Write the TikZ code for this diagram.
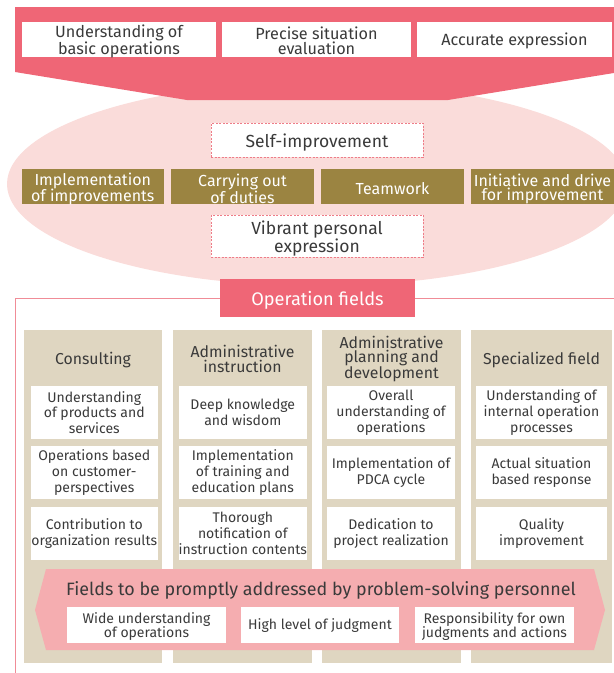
\documentclass[tikz,border=0pt]{standalone}
\usepackage{fontspec}
\setmainfont{Fira Sans}
\usetikzlibrary{positioning}
\definecolor{bannerpink}{HTML}{EF6676}
\definecolor{ovalpink}{HTML}{FADCDA}
\definecolor{olive}{HTML}{9B8441}
\definecolor{beige}{HTML}{DFD6C1}
\definecolor{bandpink}{HTML}{F5ADB0}
\definecolor{framepink}{HTML}{F08C97}
\definecolor{dashpink}{HTML}{EE7C88}
\definecolor{ink}{HTML}{3A3A3A}
\tikzset{
  base/.style={inner sep=0pt, align=center, text=ink},
  % boxes (drawn empty, their text is set by a second node)
  wbox/.style={inner sep=0pt, fill=white},
  dbox/.style={inner sep=0pt, fill=white, draw=dashpink, dashed, dash pattern=on 2pt off 1.5pt, line width=0.8pt},
  obox/.style={inner sep=0pt, fill=olive},
  pbox/.style={inner sep=0pt, fill=bannerpink},
  colbox/.style={fill=beige, inner sep=0pt, anchor=north west},
  % text styles
  tbanner/.style={base, font=\fontsize{16.2}{15}\selectfont},
  tdash/.style={base, font=\fontsize{17.5}{18}\selectfont},
  tolive/.style={base, text=white, font=\fontsize{16}{14.5}\selectfont},
  tpink/.style={base, text=white, font=\fontsize{18.2}{18}\selectfont},
  thead/.style={base, font=\fontsize{15.8}{14.7}\selectfont},
  tcell/.style={base, font=\fontsize{14}{15.8}\selectfont},
  tsub/.style={base, font=\fontsize{14}{14.5}\selectfont},
  ttitle/.style={base, font=\fontsize{17.9}{18}\selectfont},
}
% box node #2 with style #1 at #3; its text #6 in style #4, shifted down by #5
\newcommand{\textbox}[6]{%
  \node[#1] (#2) at (#3) {};
  \node[#4] (#2t) at ([yshift=#5]#2.center) {#6};}
\begin{document}
\begin{tikzpicture}[x=1pt,y=-1pt]
\useasboundingbox (0,0) rectangle (614,673);

% oval of personal qualities
\fill[ovalpink] (317,184) ellipse [x radius=310, y radius=102];

% top banner pointing down into the oval
\fill[bannerpink] (15,7) -- (620,7) -- (620,72) -- (448,100) -- (187,100) -- (15,72) -- cycle;
\textbox{wbox, minimum width=194pt, minimum height=35pt}{b1}{119,39.5}{tbanner}{-1.5pt}{Understanding of\\basic operations}
\textbox{wbox, minimum width=189pt, minimum height=35pt}{b2}{316.5,39.5}{tbanner}{-1.5pt}{Precise situation\\evaluation}
\textbox{wbox, minimum width=195pt, minimum height=35pt}{b3}{514.5,39.5}{tbanner}{-1.5pt}{Accurate expression}

% items inside the oval
\textbox{dbox, minimum width=212pt, minimum height=34pt}{self}{317,140}{tdash}{-3pt}{Self-improvement}
\textbox{obox, minimum width=142.5pt, minimum height=35pt}{o1}{92.75,186.5}{tolive}{-2.5pt}{Implementation\\of improvements}
\textbox{obox, minimum width=143pt, minimum height=35pt}{o2}{242.5,186.5}{tolive}{-2.5pt}{Carrying out\\of duties}
\textbox{obox, minimum width=143pt, minimum height=35pt}{o3}{392.5,186.5}{tolive}{-2.5pt}{Teamwork}
\textbox{obox, minimum width=143pt, minimum height=35pt}{o4}{542.5,186.5}{tolive}{-2.5pt}{Initiative and drive\\for improvement}
\textbox{dbox, minimum width=212pt, minimum height=42pt}{vib}{317,236}{tdash}{-2.5pt}{Vibrant personal\\expression}

% frame around the operation fields
\coordinate (fbl) at (15,673);
\coordinate (ftl) at (15,298);
\coordinate (ftr) at (614,298);
\draw[framepink, line width=1pt] (fbl) -- (ftl) -- (ftr);
\textbox{pbox, minimum width=195pt, minimum height=38pt}{opf}{317.5,298}{tpink}{-2.5pt}{Operation fields}

% the four columns
\node[colbox, minimum width=138pt, minimum height=333pt] (c1) at (24,330) {};
\node[colbox, minimum width=139pt, minimum height=333pt] (c2) at (173,330) {};
\node[colbox, minimum width=139pt, minimum height=333pt] (c3) at (322,330) {};
\node[colbox, minimum width=141pt, minimum height=333pt] (c4) at (471,330) {};

\node[thead] (h1) at (93,360) {Consulting};
\node[thead] (h2) at (242.5,359) {Administrative\\instruction};
\node[thead] (h3) at (391.5,359) {Administrative\\planning and\\development};
\node[thead] (h4) at (541.5,360) {Specialized field};

% column 1
\textbox{wbox, minimum width=127.5pt, minimum height=53pt}{r11}{94.25,412.5}{tcell}{0pt}{Understanding\\of products and\\services}
\textbox{wbox, minimum width=127.5pt, minimum height=53pt}{r12}{94.25,472.5}{tcell}{0pt}{Operations based\\on customer-\\perspectives}
\textbox{wbox, minimum width=127.5pt, minimum height=53pt}{r13}{94.25,533.5}{tcell}{0pt}{Contribution to\\organization results}
% column 2
\textbox{wbox, minimum width=127.6pt, minimum height=53pt}{r21}{242.8,412.5}{tcell}{0pt}{Deep knowledge\\and wisdom}
\textbox{wbox, minimum width=127.6pt, minimum height=53pt}{r22}{242.8,472.5}{tcell}{0pt}{Implementation\\of training and\\education plans}
\textbox{wbox, minimum width=127.6pt, minimum height=53pt}{r23}{242.8,533.5}{tcell}{0pt}{Thorough\\notification of\\instruction contents}
% column 3
\textbox{wbox, minimum width=128pt, minimum height=53pt}{r31}{391,412.5}{tcell}{0pt}{Overall\\understanding of\\operations}
\textbox{wbox, minimum width=128pt, minimum height=53pt}{r32}{391,472.5}{tcell}{0pt}{Implementation of\\PDCA cycle}
\textbox{wbox, minimum width=128pt, minimum height=53pt}{r33}{391,533.5}{tcell}{0pt}{Dedication to\\project realization}
% column 4
\textbox{wbox, minimum width=131pt, minimum height=53pt}{r41}{541.5,412.5}{tcell}{0pt}{Understanding of\\internal operation\\processes}
\textbox{wbox, minimum width=131pt, minimum height=53pt}{r42}{541.5,472.5}{tcell}{0pt}{Actual situation\\based response}
\textbox{wbox, minimum width=131pt, minimum height=53pt}{r43}{541.5,533.5}{tcell}{0pt}{Quality\\improvement}

% band across the columns
\fill[bandpink] (35,610) -- (46,569) -- (594,569) -- (605,610) -- (594,650) -- (46,650) -- cycle;
\node[ttitle] (bt) at (321,590.5) {Fields to be promptly addressed by problem-solving personnel};
\textbox{wbox, minimum width=159pt, minimum height=36pt}{s1}{146.5,625}{tsub}{-1.5pt}{Wide understanding\\of operations}
\textbox{wbox, minimum width=158pt, minimum height=36pt}{s2}{320,625}{tsub}{-1pt}{High level of judgment}
\textbox{wbox, minimum width=159pt, minimum height=36pt}{s3}{494.5,625}{tsub}{-1.5pt}{Responsibility for own\\judgments and actions}
\end{tikzpicture}
\end{document}
